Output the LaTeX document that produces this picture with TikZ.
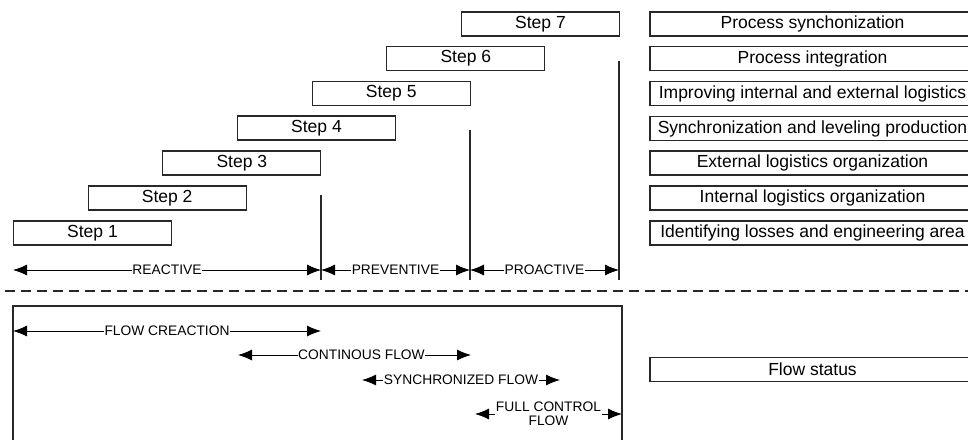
\documentclass[tikz,border=0pt]{standalone}
\usepackage{fontspec}
\setmainfont{Liberation Sans}
\usetikzlibrary{arrows.meta}
\definecolor{ln}{RGB}{40,40,40}
\tikzset{
  stepbox/.style={draw=ln,line width=1.1pt,minimum width=158pt,minimum height=24pt,inner sep=0pt,font=\fontsize{17.5}{19}\selectfont},
  rbox/.style={draw=ln,line width=1.1pt,minimum width=325pt,minimum height=24pt,inner sep=0pt,font=\fontsize{17.5}{19}\selectfont},
  vline/.style={draw=ln,line width=1.1pt},
  darr/.style={draw=black,line width=0.9pt,{Latex[length=14pt,width=11pt]}-{Latex[length=14pt,width=11pt]}},
  alab/.style={fill=white,inner sep=0.5pt,font=\fontsize{13.8}{14}\selectfont},
}
\begin{document}
\begin{tikzpicture}[x=1pt,y=-1pt]
\useasboundingbox (0,0) rectangle (968,439);
% steps
\foreach \k/\x/\y in {1/92.5/233,2/167.2/198,3/241.8/163,4/316.5/128,5/391.2/93.5,6/465.8/58.5,7/540.5/24}
  \node[stepbox] (s\k) at (\x,\y) {Step \k};
% right boxes
\node[rbox] (r7) at (812.5,24) {Process synchonization};
\node[rbox] (r6) at (812.5,58.5) {Process integration};
\node[rbox] (r5) at (812.5,93.5) {Improving internal and external logistics};
\node[rbox] (r4) at (812.5,128.5) {Synchronization and leveling production};
\node[rbox] (r3) at (812.5,163) {External logistics organization};
\node[rbox] (r2) at (812.5,198) {Internal logistics organization};
\node[rbox] (r1) at (812.5,233) {Identifying losses and engineering area};
\node[rbox] (fs) at (812.5,369.5) {Flow status};
% vertical lines
\coordinate (v0) at (13,270);
\coordinate (v1t) at (321,195); \coordinate (v1b) at (321,280);
\coordinate (v2t) at (470,130); \coordinate (v2b) at (470,280);
\coordinate (v3t) at (619,61);  \coordinate (v3b) at (619,280);
\draw[vline] (v1t) -- (v1b);
\draw[vline] (v2t) -- (v2b);
\draw[vline] (v3t) -- (v3b);
\coordinate (a1) at (321,270); \coordinate (a2) at (470,270); \coordinate (a3) at (619,270);
\draw[darr] (v0) -- node[alab] (lr) {REACTIVE} (a1);
\draw[darr] (a1) -- node[alab] (lp) {PREVENTIVE} (a2);
\draw[darr] (a2) -- node[alab] (lpa) {PROACTIVE} (a3);
% dashed separator
\coordinate (d1) at (5,291); \coordinate (d2) at (968,291);
\draw[ln,line width=1.3pt,dash pattern=on 10pt off 6pt] (d1) -- (d2);
% bottom frame
\coordinate (f1) at (13,445); \coordinate (f2) at (13,306);
\coordinate (f3) at (622,306); \coordinate (f4) at (622,445);
\draw[vline] (f1) -- (f2) -- (f3) -- (f4);
% flow arrows
\coordinate (b1l) at (13,331);  \coordinate (b1r) at (321,331);
\coordinate (b2l) at (238,355); \coordinate (b2r) at (471,355);
\coordinate (b3l) at (362,380); \coordinate (b3r) at (560,380);
\coordinate (b4l) at (475,414); \coordinate (b4r) at (622,414);
\draw[darr] (b1l) -- (b1r) node[alab,pos=0.5] (t1) {FLOW CREACTION};
\draw[darr] (b2l) -- (b2r) node[alab,pos=0.53] (t2) {CONTINOUS FLOW};
\draw[darr] (b3l) -- (b3r) node[alab,pos=0.5] (t3) {SYNCHRONIZED FLOW};
\draw[darr] (b4l) -- (b4r) node[alab,pos=0.5,align=center] (t4) {FULL CONTROL\\FLOW};
\end{tikzpicture}
\end{document}
